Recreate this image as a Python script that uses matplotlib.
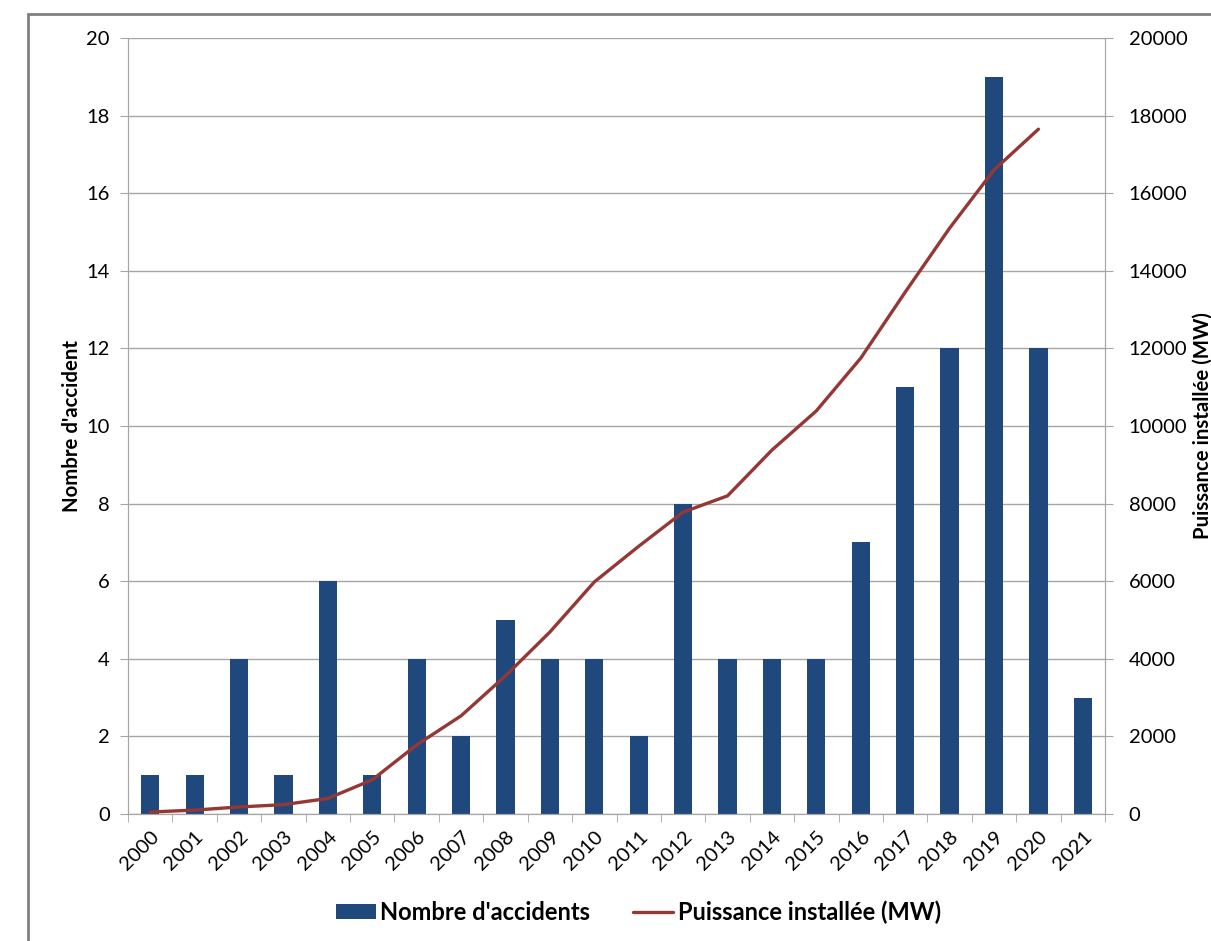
import matplotlib.pyplot as plt
import numpy as np
from matplotlib.patches import Rectangle

plt.rcParams['font.family'] = ['Lato', 'DejaVu Sans']

years = [str(y) for y in range(2000, 2022)]
accidents = [1, 1, 4, 1, 6, 1, 4, 2, 5, 4, 4, 2, 8, 4, 4, 4, 7, 11, 12, 19, 12, 3]
# installed capacity in MW (no value yet for 2021)
puissance = [50, 100, 180, 240, 400, 880, 1780, 2530, 3560, 4690, 5980,
             6900, 7780, 8200, 9380, 10390, 11750, 13450, 15100, 16600, 17650]

bar_color = '#1F497D'
line_color = '#953735'
grid_color = '#A6A6A6'

fig = plt.figure(figsize=(12.11, 9.41), dpi=100)
ax = fig.add_axes([0.1057, 0.135, 0.8068, 0.8246])
ax2 = ax.twinx()

x = np.arange(len(years))
bars = ax.bar(x, accidents, width=0.41, color=bar_color, zorder=2,
              label="Nombre d'accidents")
line, = ax2.plot(x[:len(puissance)], puissance, color=line_color, lw=2.4,
                 solid_capstyle='round', label='Puissance installée (MW)')

ax.set_xlim(-0.5, len(years) - 0.5)
ax.set_ylim(0, 20)
ax.set_yticks(range(0, 21, 2))
ax2.set_ylim(0, 20000)
ax2.set_yticks(range(0, 20001, 2000))
ax.yaxis.grid(True, color=grid_color, lw=1)
ax.set_axisbelow(True)

ax.set_xticks(x)
ax.set_xticklabels(years, rotation=45, ha='right', rotation_mode='anchor',
                   fontsize=14.5)
ax.set_xticks(np.arange(-0.5, len(years)), minor=True)
ax.tick_params(axis='x', which='major', length=0, pad=10)
ax.tick_params(axis='x', which='minor', length=6, color=grid_color)
ax.tick_params(axis='y', labelsize=14.5, length=6, color=grid_color, pad=7)
ax2.tick_params(axis='y', labelsize=14.5, length=6, color=grid_color, pad=11)

for a in (ax, ax2):
    a.spines['top'].set_visible(False)
    for side in ('left', 'right', 'bottom'):
        a.spines[side].set_color(grid_color)

ax.set_ylabel("Nombre d'accident", fontsize=14.7, fontweight='bold', labelpad=3)
ax2.set_ylabel('Puissance installée (MW)', fontsize=14.7, fontweight='bold',
               labelpad=4)

fig.legend([bars, line], ["Nombre d'accidents", 'Puissance installée (MW)'],
           loc='center', bbox_to_anchor=(0.527, 0.031), ncol=2, frameon=False,
           prop={'size': 17, 'weight': 'bold'}, handlelength=1.7,
           handleheight=0.6, handletextpad=0.2, columnspacing=1.8)

# outer chart frame
fig.patches.append(Rectangle((28 / 1211, -0.1), 1.2, (941 - 14) / 941 + 0.1,
                             transform=fig.transFigure, fill=False,
                             edgecolor='#808080', lw=2))

fig.savefig('out.png', dpi=100)
